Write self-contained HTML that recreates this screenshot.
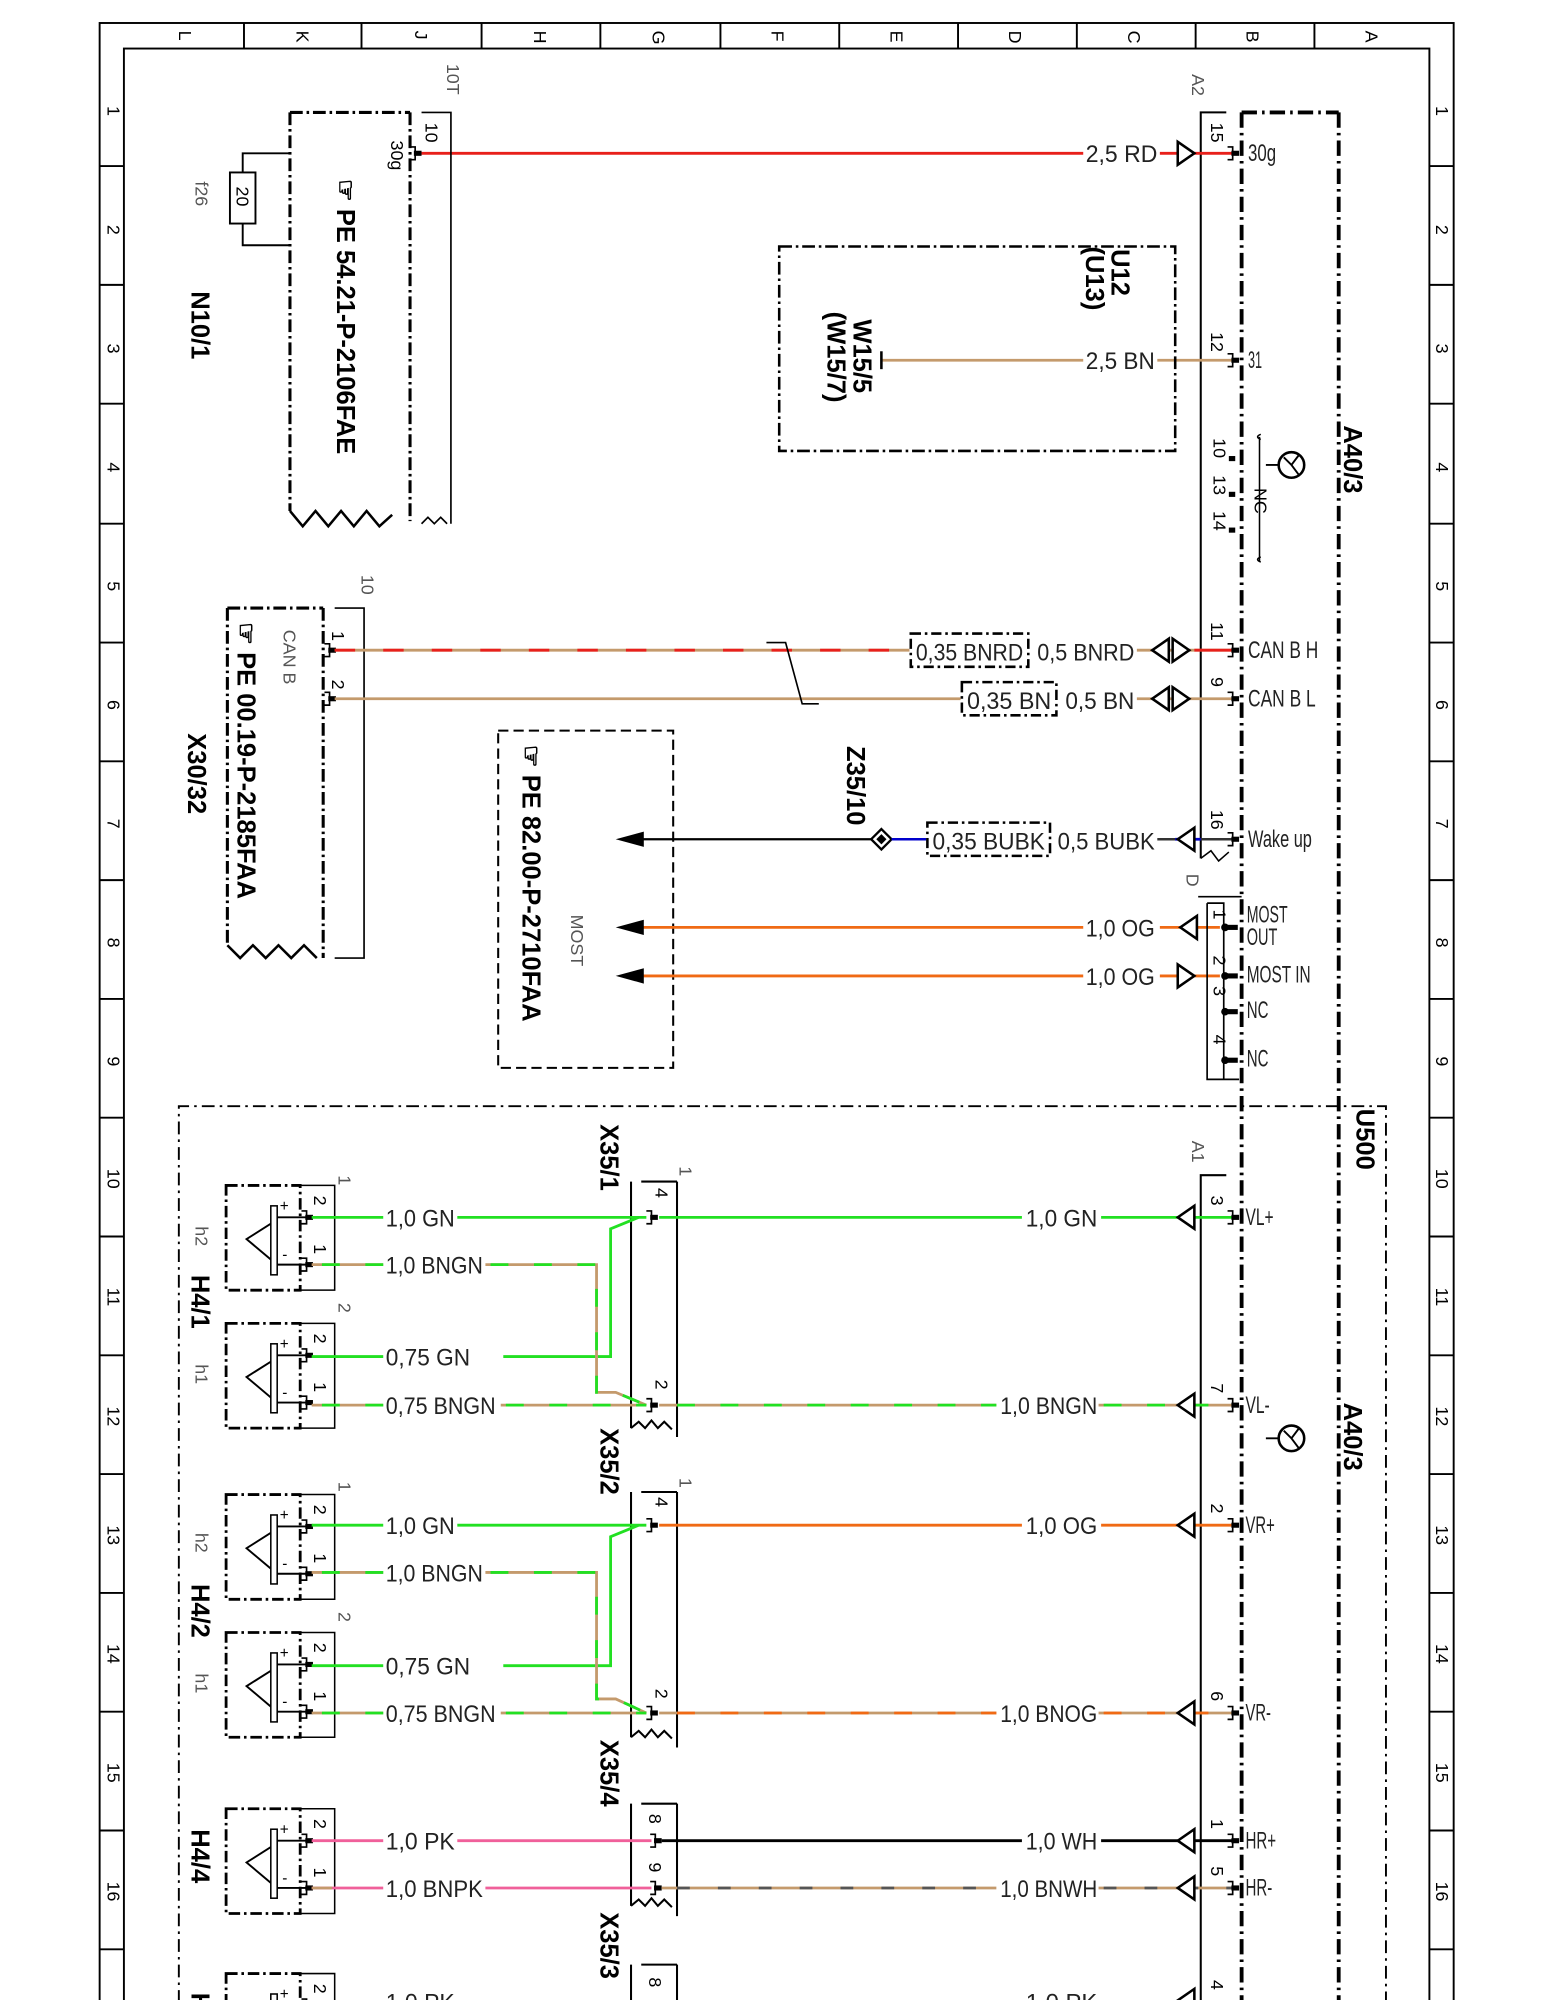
<!DOCTYPE html>
<html><head><meta charset="utf-8"><style>
html,body{margin:0;padding:0;background:#fff;}
svg{display:block;}
text{font-family:"Liberation Sans",sans-serif;}
.n{font-size:14px;fill:#000;}
.w{font-size:19px;fill:#222;}
.b{font-weight:bold;font-size:20px;}
.g{fill:#555;}
</style></head><body>
<svg width="1545" height="2000" viewBox="0 0 1209.5 1565.7" xmlns="http://www.w3.org/2000/svg">
<defs>
<g id="pin"><path d="M-4,-5 h4 v10 h-4" fill="none" stroke="#000" stroke-width="1.3"/><rect x="-1" y="-2" width="6" height="4" fill="#000"/></g>
<g id="arr"><path d="M0,-9 L-13,0 L0,9 Z" fill="#fff" stroke="#000" stroke-width="2"/></g>
<g id="arrR"><path d="M0,-9 L13,0 L0,9 Z" fill="#fff" stroke="#000" stroke-width="2"/></g>
<g id="spk">
<rect x="177" y="0" width="58" height="82" fill="none" stroke="#000" stroke-width="2.2" stroke-dasharray="9,3,2,3"/>
<path d="M235,0 H262 V82 H235" fill="none" stroke="#000" stroke-width="1.2"/>
<rect x="212" y="16" width="5" height="54" fill="#fff" stroke="#000" stroke-width="1.2"/>
<path d="M212,30 L193,42 L193,42 L212,58" fill="none" stroke="#000" stroke-width="1.5"/>
<path d="M217,25 H240 M217,62 H240" stroke="#000" stroke-width="1.5"/>
<text x="219" y="20" font-size="12">+</text><text x="221" y="58" font-size="12">-</text>
<use href="#pin" x="240" y="25"/><use href="#pin" x="240" y="62"/>
<text class="n" transform="translate(246,8) rotate(90)">2</text>
<text class="n" transform="translate(246,46) rotate(90)">1</text>
</g>
</defs>
<!-- frame -->
<g fill="none" stroke="#000" stroke-width="1.5">
<rect x="78" y="18" width="1060" height="1560"/>
<rect x="97" y="38" width="1022" height="1540"/>
<path d="M191,18V38M283,18V38M377,18V38M470,18V38M564,18V38M657,18V38M750,18V38M843,18V38M936,18V38M1029,18V38"/>
<path d="M78,130H97M78,223H97M78,316H97M78,410H97M78,503H97M78,596H97M78,689H97M78,782H97M78,875H97M78,968H97M78,1061H97M78,1154H97M78,1247H97M78,1340H97M78,1433H97M78,1526H97"/>
<path d="M1119,130H1138M1119,223H1138M1119,316H1138M1119,410H1138M1119,503H1138M1119,596H1138M1119,689H1138M1119,782H1138M1119,875H1138M1119,968H1138M1119,1061H1138M1119,1154H1138M1119,1247H1138M1119,1340H1138M1119,1433H1138M1119,1526H1138"/>
</g>
<g class="n" font-size="12">
<text transform="translate(140,24) rotate(90)">L</text><text transform="translate(232,24) rotate(90)">K</text><text transform="translate(325,24) rotate(90)">J</text><text transform="translate(418,24) rotate(90)">H</text><text transform="translate(511,24) rotate(90)">G</text><text transform="translate(604,24) rotate(90)">F</text><text transform="translate(697,24) rotate(90)">E</text><text transform="translate(790,24) rotate(90)">D</text><text transform="translate(883,24) rotate(90)">C</text><text transform="translate(976,24) rotate(90)">B</text><text transform="translate(1069,24) rotate(90)">A</text>
</g>
<g class="n" font-size="12">
<text transform="translate(84,83) rotate(90)">1</text><text transform="translate(84,176) rotate(90)">2</text><text transform="translate(84,269) rotate(90)">3</text><text transform="translate(84,362) rotate(90)">4</text><text transform="translate(84,455) rotate(90)">5</text><text transform="translate(84,548) rotate(90)">6</text><text transform="translate(84,641) rotate(90)">7</text><text transform="translate(84,734) rotate(90)">8</text><text transform="translate(84,827) rotate(90)">9</text><text transform="translate(84,915) rotate(90)">10</text><text transform="translate(84,1008) rotate(90)">11</text><text transform="translate(84,1101) rotate(90)">12</text><text transform="translate(84,1194) rotate(90)">13</text><text transform="translate(84,1287) rotate(90)">14</text><text transform="translate(84,1380) rotate(90)">15</text><text transform="translate(84,1473) rotate(90)">16</text>
<text transform="translate(1124,83) rotate(90)">1</text><text transform="translate(1124,176) rotate(90)">2</text><text transform="translate(1124,269) rotate(90)">3</text><text transform="translate(1124,362) rotate(90)">4</text><text transform="translate(1124,455) rotate(90)">5</text><text transform="translate(1124,548) rotate(90)">6</text><text transform="translate(1124,641) rotate(90)">7</text><text transform="translate(1124,734) rotate(90)">8</text><text transform="translate(1124,827) rotate(90)">9</text><text transform="translate(1124,915) rotate(90)">10</text><text transform="translate(1124,1008) rotate(90)">11</text><text transform="translate(1124,1101) rotate(90)">12</text><text transform="translate(1124,1194) rotate(90)">13</text><text transform="translate(1124,1287) rotate(90)">14</text><text transform="translate(1124,1380) rotate(90)">15</text><text transform="translate(1124,1473) rotate(90)">16</text>
</g>

<!-- A40/3 -->
<g fill="none" stroke="#000" stroke-width="3" stroke-dasharray="12,4,2,4">
<path d="M972,88 V1568"/><path d="M1048,88 V1568"/><path d="M972,88 H1048"/>
</g>
<text class="b" transform="translate(1052,333) rotate(90)">A40/3</text>
<text class="b" transform="translate(1052,1098) rotate(90)">A40/3</text>
<path d="M940,672 V88 H960" fill="none" stroke="#000" stroke-width="1.6"/>
<path d="M940,672 l8,-6 l6,8 l8,-7" fill="none" stroke="#000" stroke-width="1.2"/>
<text class="n g" font-size="17" transform="translate(933,58) rotate(90)">A2</text>
<circle cx="1011" cy="364" r="10" fill="none" stroke="#000" stroke-width="2"/>
<path d="M1001,364 h-10 M1005,358 l6,6 l6,-8 M1011,364 l6,8" stroke="#000" stroke-width="1.5" fill="none"/>
<path d="M987,340 q-5,2 0,4 M987,440 q-5,-2 0,-4 M986,342 V440" stroke="#000" fill="none" stroke-width="1.2"/>
<text class="n" font-size="12" transform="translate(982,382) rotate(90)">NC</text>
<text class="n" transform="translate(950,343) rotate(90)">10</text><text class="n" transform="translate(950,372) rotate(90)">13</text><text class="n" transform="translate(950,400) rotate(90)">14</text>
<rect x="962" y="357" width="5" height="4"/><rect x="962" y="385" width="5" height="4"/><rect x="962" y="413" width="5" height="4"/>

<!-- 30g red -->
<line x1="330" y1="120" x2="848" y2="120" stroke="#e8201b" stroke-width="2.2"/>
<line x1="908" y1="120" x2="965" y2="120" stroke="#e8201b" stroke-width="2.2"/>
<text class="w" x="850" y="127" textLength="56" lengthAdjust="spacingAndGlyphs">2,5 RD</text>
<use href="#arrR" x="922" y="120"/>
<use href="#pin" x="965" y="120"/>
<text class="n" transform="translate(948,96) rotate(90)">15</text>
<text class="w" font-size="14" x="977" y="126" textLength="22" lengthAdjust="spacingAndGlyphs">30g</text>

<!-- 31 BN -->
<line x1="690" y1="282" x2="848" y2="282" stroke="#c49a6c" stroke-width="2.2"/>
<line x1="906" y1="282" x2="965" y2="282" stroke="#c49a6c" stroke-width="2.2"/>
<line x1="690" y1="275" x2="690" y2="289" stroke="#000" stroke-width="2"/>
<text class="w" x="850" y="289" textLength="54" lengthAdjust="spacingAndGlyphs">2,5 BN</text>
<use href="#pin" x="965" y="282"/>
<text class="n" transform="translate(948,260) rotate(90)">12</text>
<text class="w" font-size="14" x="977" y="288" textLength="11" lengthAdjust="spacingAndGlyphs">31</text>
<rect x="610" y="193" width="310" height="160" fill="none" stroke="#000" stroke-width="2" stroke-dasharray="10,3,2,3"/>
<text class="b" font-size="19" transform="translate(870,195) rotate(90)">U12</text>
<text class="b" font-size="19" transform="translate(850,193) rotate(90)">(U13)</text>
<text class="b" font-size="19" transform="translate(668,250) rotate(90)">W15/5</text>
<text class="b" font-size="19" transform="translate(648,244) rotate(90)">(W15/7)</text>

<!-- N10/1 -->
<path d="M227,88 V400 M321,88 V408 M227,88 H321" fill="none" stroke="#000" stroke-width="2.4" stroke-dasharray="10,3,2,3"/>
<path d="M227,400 l10,12 l10,-12 l10,12 l10,-12 l10,12 l10,-12 l10,12 l10,-9" fill="none" stroke="#000" stroke-width="2"/>
<path d="M330,88 H353 V410 M330,410 l5,-5 l5,5 l5,-5 l5,5" fill="none" stroke="#000" stroke-width="1.3"/>
<text class="n g" font-size="17" transform="translate(350,50) rotate(90)">10T</text>
<use href="#pin" x="325" y="120"/>
<text class="n" transform="translate(333,96) rotate(90)">10</text>
<text class="n" font-size="12" transform="translate(306,110) rotate(90)">30g</text>
<path d="M227,120 H190 V135 M190,175 V192 H227" fill="none" stroke="#000" stroke-width="1.5"/>
<rect x="180" y="135" width="20" height="40" fill="#fff" stroke="#000" stroke-width="1.5"/>
<text class="n" font-size="12" transform="translate(185,146) rotate(90)">20</text>
<text class="n g" font-size="17" transform="translate(153,142) rotate(90)">f26</text>
<text class="b" font-size="21" transform="translate(264,140) rotate(90)">☞ PE  54.21-P-2106FAE</text>
<text class="b" font-size="20" transform="translate(150,228) rotate(90)">N10/1</text>

<!-- CAN -->
<path d="M178,476 V740 M253,476 V750 M178,476 H253" fill="none" stroke="#000" stroke-width="2.4" stroke-dasharray="10,3,2,3"/>
<path d="M178,740 l10,10 l10,-10 l10,10 l10,-10 l10,10 l10,-10 l10,10" fill="none" stroke="#000" stroke-width="2"/>
<path d="M262,476 H285 V750 H262" fill="none" stroke="#000" stroke-width="1.3"/>
<text class="n g" font-size="17" transform="translate(283,450) rotate(90)">10</text>
<text class="n g" font-size="20" transform="translate(222,493) rotate(90)">CAN B</text>
<text class="b" font-size="21" transform="translate(186,487) rotate(90)">☞ PE  00.19-P-2185FAA</text>
<text class="b" font-size="20" transform="translate(147,574) rotate(90)">X30/32</text>
<text class="n" transform="translate(260,494) rotate(90)">1</text>
<text class="n" transform="translate(260,532) rotate(90)">2</text>
<use href="#pin" x="258" y="509"/><use href="#pin" x="258" y="547"/>
<line x1="262" y1="509" x2="712" y2="509" stroke="#c49a6c" stroke-width="2.2"/>
<line x1="262" y1="509" x2="712" y2="509" stroke="#e8201b" stroke-width="2.2" stroke-dasharray="16,22"/>
<rect x="713" y="496" width="92" height="26" fill="none" stroke="#000" stroke-width="2" stroke-dasharray="8,3,2,3"/>
<text class="w" x="717" y="517" textLength="84" lengthAdjust="spacingAndGlyphs">0,35 BNRD</text>
<text class="w" x="812" y="517" textLength="76" lengthAdjust="spacingAndGlyphs">0,5 BNRD</text>
<line x1="890" y1="509" x2="965" y2="509" stroke="#c49a6c" stroke-width="2.2"/>
<line x1="935" y1="509" x2="965" y2="509" stroke="#e8201b" stroke-width="2.2"/>
<use href="#arr" x="915" y="509"/><use href="#arrR" x="918" y="509"/>
<use href="#pin" x="965" y="509"/>
<text class="n" transform="translate(948,487) rotate(90)">11</text>
<text class="w" font-size="14" x="977" y="515" textLength="55" lengthAdjust="spacingAndGlyphs">CAN B H</text>
<line x1="262" y1="547" x2="752" y2="547" stroke="#c49a6c" stroke-width="2.2"/>
<rect x="753" y="534" width="74" height="26" fill="none" stroke="#000" stroke-width="2" stroke-dasharray="8,3,2,3"/>
<text class="w" x="757" y="555" textLength="66" lengthAdjust="spacingAndGlyphs">0,35 BN</text>
<text class="w" x="834" y="555" textLength="54" lengthAdjust="spacingAndGlyphs">0,5 BN</text>
<line x1="890" y1="547" x2="965" y2="547" stroke="#c49a6c" stroke-width="2.2"/>
<use href="#arr" x="915" y="547"/><use href="#arrR" x="918" y="547"/>
<use href="#pin" x="965" y="547"/>
<text class="n" transform="translate(948,530) rotate(90)">9</text>
<text class="w" font-size="14" x="977" y="553" textLength="53" lengthAdjust="spacingAndGlyphs">CAN B L</text>
<path d="M600,503 H615 L628,551 H641" fill="none" stroke="#000" stroke-width="1.3"/>

<!-- Wake up -->
<line x1="490" y1="657" x2="682" y2="657" stroke="#000" stroke-width="1.8"/>
<path d="M482,657 l22,-6 v12 z"/>
<path d="M690,649 l8,8 l-8,8 l-8,-8 z" fill="#fff" stroke="#000" stroke-width="1.8"/>
<path d="M690,653 l4,4 l-4,4 l-4,-4 z"/>
<line x1="698" y1="657" x2="725" y2="657" stroke="#0000cc" stroke-width="2"/>
<rect x="726" y="644" width="96" height="26" fill="none" stroke="#000" stroke-width="2" stroke-dasharray="8,3,2,3"/>
<text class="w" x="730" y="665" textLength="88" lengthAdjust="spacingAndGlyphs">0,35 BUBK</text>
<text class="w" x="828" y="665" textLength="76" lengthAdjust="spacingAndGlyphs">0,5 BUBK</text>
<line x1="906" y1="657" x2="965" y2="657" stroke="#333" stroke-width="2"/>
<line x1="920" y1="657" x2="940" y2="657" stroke="#0000cc" stroke-width="2.2"/>
<use href="#arr" x="935" y="657"/>
<use href="#pin" x="965" y="657"/>
<text class="n" transform="translate(948,634) rotate(90)">16</text>
<text class="w" font-size="14" x="977" y="663" textLength="50" lengthAdjust="spacingAndGlyphs">Wake up</text>
<text class="b" font-size="19" transform="translate(663,584) rotate(90)">Z35/10</text>

<!-- MOST -->
<rect x="390" y="572" width="137" height="264" fill="none" stroke="#000" stroke-width="1.6" stroke-dasharray="8,4"/>
<text class="b" font-size="20" transform="translate(409,583) rotate(90)">☞ PE  82.00-P-2710FAA</text>
<text class="n g" font-size="22" transform="translate(447,716) rotate(90)">MOST</text>
<line x1="495" y1="726" x2="848" y2="726" stroke="#f06a14" stroke-width="2.2"/>
<line x1="495" y1="764" x2="848" y2="764" stroke="#f06a14" stroke-width="2.2"/>
<path d="M482,726 l22,-6 v12 z"/><path d="M482,764 l22,-6 v12 z"/>
<text class="w" x="850" y="733" textLength="54" lengthAdjust="spacingAndGlyphs">1,0 OG</text>
<text class="w" x="850" y="771" textLength="54" lengthAdjust="spacingAndGlyphs">1,0 OG</text>
<line x1="908" y1="726" x2="955" y2="726" stroke="#f06a14" stroke-width="2.2"/>
<line x1="908" y1="764" x2="955" y2="764" stroke="#f06a14" stroke-width="2.2"/>
<use href="#arr" x="937" y="726"/><use href="#arrR" x="922" y="764"/>
<path d="M938,702 H972 M945,707 V845 H970 M945,707 H958 V845" fill="none" stroke="#000" stroke-width="1.3"/>
<text class="n g" font-size="17" transform="translate(929,684) rotate(90)">D</text>
<text class="n" transform="translate(950,712) rotate(90)">1</text><text class="n" transform="translate(950,748) rotate(90)">2</text><text class="n" transform="translate(950,772) rotate(90)">3</text><text class="n" transform="translate(950,810) rotate(90)">4</text>
<g fill="#000"><circle cx="959" cy="726" r="3"/><circle cx="959" cy="764" r="3"/><circle cx="959" cy="792" r="3"/><circle cx="959" cy="830" r="3"/>
<rect x="959" y="724" width="10" height="4"/><rect x="959" y="762" width="10" height="4"/><rect x="959" y="790" width="10" height="4"/><rect x="959" y="828" width="10" height="4"/></g>
<g class="w" font-size="14">
<text x="976" y="722" textLength="32" lengthAdjust="spacingAndGlyphs">MOST</text>
<text x="976" y="740" textLength="24" lengthAdjust="spacingAndGlyphs">OUT</text>
<text x="976" y="769" textLength="50" lengthAdjust="spacingAndGlyphs">MOST IN</text>
<text x="976" y="797" textLength="17" lengthAdjust="spacingAndGlyphs">NC</text>
<text x="976" y="835" textLength="17" lengthAdjust="spacingAndGlyphs">NC</text></g>

<!-- U500 -->
<path d="M140,1568 V866 H1085 V1568" fill="none" stroke="#000" stroke-width="1.5" stroke-dasharray="10,4,2,4"/>
<text class="b" transform="translate(1062,868) rotate(90)">U500</text>
<circle cx="1011" cy="1126" r="10" fill="none" stroke="#000" stroke-width="2"/>
<path d="M1001,1126 h-10 M1005,1120 l6,6 l6,-8 M1011,1126 l6,8" stroke="#000" stroke-width="1.5" fill="none"/>
<path d="M940,1568 V920 H960" fill="none" stroke="#000" stroke-width="1.6"/>
<text class="n g" font-size="17" transform="translate(933,893) rotate(90)">A1</text>

<!-- speakers -->
<use href="#spk" y="928"/><use href="#spk" y="1036"/>
<use href="#spk" y="1170"/><use href="#spk" y="1278"/>
<use href="#spk" y="1416"/><use href="#spk" y="1545"/>
<g class="n g" font-size="17">
<text transform="translate(265,920) rotate(90)">1</text><text transform="translate(265,1020) rotate(90)">2</text>
<text transform="translate(265,1160) rotate(90)">1</text><text transform="translate(265,1262) rotate(90)">2</text>
<text transform="translate(153,960) rotate(90)">h2</text><text transform="translate(153,1068) rotate(90)">h1</text>
<text transform="translate(153,1200) rotate(90)">h2</text><text transform="translate(153,1310) rotate(90)">h1</text>
</g>
<text class="b" transform="translate(150,998) rotate(90)">H4/1</text>
<text class="b" transform="translate(150,1240) rotate(90)">H4/2</text>
<text class="b" transform="translate(150,1432) rotate(90)">H4/4</text>
<text class="b" transform="translate(150,1560) rotate(90)">H</text>

<!-- X35 connectors -->
<g fill="none" stroke="#000" stroke-width="1.6">
<path d="M494,925 V1118 M530,925 V1125 M502,925 H530 M494,1118 l6,-5 l5,5 l5,-6 l5,6 l5,-5 l6,6"/>
<path d="M494,1168 V1360 M530,1168 V1368 M502,1168 H530 M494,1360 l6,-5 l5,5 l5,-6 l5,6 l5,-5 l6,6"/>
<path d="M494,1412 V1492 M530,1412 V1500 M502,1412 H530 M494,1492 l6,-5 l5,5 l5,-6 l5,6 l5,-5 l6,6"/>
<path d="M494,1538 V1568 M530,1538 V1568 M502,1538 H530"/>
</g>
<g class="n g" font-size="14"><text transform="translate(532,913) rotate(90)">1</text><text transform="translate(532,1157) rotate(90)">1</text></g>
<text class="b" font-size="19" transform="translate(470,880) rotate(90)">X35/1</text>
<text class="b" font-size="19" transform="translate(470,1118) rotate(90)">X35/2</text>
<text class="b" font-size="19" transform="translate(470,1362) rotate(90)">X35/4</text>
<text class="b" font-size="19" transform="translate(470,1497) rotate(90)">X35/3</text>
<g class="n"><text transform="translate(513,930) rotate(90)">4</text><text transform="translate(513,1080) rotate(90)">2</text>
<text transform="translate(513,1172) rotate(90)">4</text><text transform="translate(513,1322) rotate(90)">2</text>
<text transform="translate(508,1420) rotate(90)">8</text><text transform="translate(508,1458) rotate(90)">9</text><text transform="translate(508,1548) rotate(90)">8</text></g>
<use href="#pin" x="510" y="953"/><use href="#pin" x="510" y="1100"/><use href="#pin" x="510" y="1194"/><use href="#pin" x="510" y="1341"/><use href="#pin" x="513" y="1441"/><use href="#pin" x="513" y="1478"/>

<g stroke-width="2.2" fill="none">
<g stroke="#22e022"><path d="M244,953 H300 M358,953 H506"/><path d="M244,1062 H300 M394,1062 H478 V962 L500,953"/>
<path d="M244,1194 H300 M358,1194 H506"/><path d="M244,1304 H300 M394,1304 H478 V1203 L500,1194"/></g>
<g stroke="#c49a6c"><path d="M244,990 H300 M380,990 H467 V1090 L482,1090 L506,1100"/><path d="M244,1100 H300 M392,1100 H506"/>
<path d="M244,1231 H300 M380,1231 H467 V1330 L482,1330 L506,1341"/><path d="M244,1341 H300 M392,1341 H506"/></g>
<g stroke="#22e022" stroke-dasharray="14,20"><path d="M252,990 H300 M384,990 H467 V1090 L482,1090 L506,1100"/><path d="M252,1100 H300 M396,1100 H506"/>
<path d="M252,1231 H300 M384,1231 H467 V1330 L482,1330 L506,1341"/><path d="M252,1341 H300 M396,1341 H506"/></g>
<path stroke="#f0609a" d="M244,1441 H300 M358,1441 H510 M244,1478 H300 M380,1478 H510"/>
<path stroke="#c49a6c" d="M244,1478 H260"/>
<path stroke="#22e022" d="M516,953 H800 M862,953 H965"/>
<path stroke="#c49a6c" d="M516,1100 H780 M860,1100 H965 M516,1341 H780 M860,1341 H965 M518,1478 H780 M860,1478 H965"/>
<path stroke="#22e022" stroke-dasharray="14,20" d="M530,1100 H780 M864,1100 H965"/>
<path stroke="#f06a14" stroke-dasharray="14,20" d="M530,1341 H780 M864,1341 H965"/>
<path stroke="#555" stroke-dasharray="10,22" d="M530,1478 H780 M864,1478 H965"/>
<path stroke="#f06a14" d="M516,1194 H800 M862,1194 H965"/>
<path stroke="#000" d="M518,1441 H800 M862,1441 H965"/>
</g>
<g class="w">
<text x="302" y="960" textLength="54" lengthAdjust="spacingAndGlyphs">1,0 GN</text>
<text x="302" y="997" textLength="76" lengthAdjust="spacingAndGlyphs">1,0 BNGN</text>
<text x="302" y="1069" textLength="66" lengthAdjust="spacingAndGlyphs">0,75 GN</text>
<text x="302" y="1107" textLength="86" lengthAdjust="spacingAndGlyphs">0,75 BNGN</text>
<text x="302" y="1201" textLength="54" lengthAdjust="spacingAndGlyphs">1,0 GN</text>
<text x="302" y="1238" textLength="76" lengthAdjust="spacingAndGlyphs">1,0 BNGN</text>
<text x="302" y="1311" textLength="66" lengthAdjust="spacingAndGlyphs">0,75 GN</text>
<text x="302" y="1348" textLength="86" lengthAdjust="spacingAndGlyphs">0,75 BNGN</text>
<text x="302" y="1448" textLength="54" lengthAdjust="spacingAndGlyphs">1,0 PK</text>
<text x="302" y="1485" textLength="76" lengthAdjust="spacingAndGlyphs">1,0 BNPK</text>
<text x="302" y="1574" textLength="54" lengthAdjust="spacingAndGlyphs">1,0 PK</text>
<text x="803" y="960" textLength="56" lengthAdjust="spacingAndGlyphs">1,0 GN</text>
<text x="783" y="1107" textLength="76" lengthAdjust="spacingAndGlyphs">1,0 BNGN</text>
<text x="803" y="1201" textLength="56" lengthAdjust="spacingAndGlyphs">1,0 OG</text>
<text x="783" y="1348" textLength="76" lengthAdjust="spacingAndGlyphs">1,0 BNOG</text>
<text x="803" y="1448" textLength="56" lengthAdjust="spacingAndGlyphs">1,0 WH</text>
<text x="783" y="1485" textLength="76" lengthAdjust="spacingAndGlyphs">1,0 BNWH</text>
<text x="803" y="1574" textLength="56" lengthAdjust="spacingAndGlyphs">1,0 PK</text>
</g>
<use href="#arr" x="935" y="953"/><use href="#arr" x="935" y="1100"/><use href="#arr" x="935" y="1194"/><use href="#arr" x="935" y="1341"/><use href="#arr" x="935" y="1441"/><use href="#arr" x="935" y="1478"/><use href="#arr" x="935" y="1566"/>
<use href="#pin" x="965" y="953"/><use href="#pin" x="965" y="1100"/><use href="#pin" x="965" y="1194"/><use href="#pin" x="965" y="1341"/><use href="#pin" x="965" y="1441"/><use href="#pin" x="965" y="1478"/>
<g class="n"><text transform="translate(948,936) rotate(90)">3</text><text transform="translate(948,1083) rotate(90)">7</text><text transform="translate(948,1177) rotate(90)">2</text><text transform="translate(948,1324) rotate(90)">6</text><text transform="translate(948,1424) rotate(90)">1</text><text transform="translate(948,1461) rotate(90)">5</text><text transform="translate(948,1550) rotate(90)">4</text></g>
<g class="w" font-size="14">
<text x="975" y="959" textLength="22" lengthAdjust="spacingAndGlyphs">VL+</text>
<text x="975" y="1106" textLength="19" lengthAdjust="spacingAndGlyphs">VL-</text>
<text x="975" y="1200" textLength="23" lengthAdjust="spacingAndGlyphs">VR+</text>
<text x="975" y="1347" textLength="20" lengthAdjust="spacingAndGlyphs">VR-</text>
<text x="975" y="1447" textLength="24" lengthAdjust="spacingAndGlyphs">HR+</text>
<text x="975" y="1484" textLength="21" lengthAdjust="spacingAndGlyphs">HR-</text></g>
</svg>
</body></html>
